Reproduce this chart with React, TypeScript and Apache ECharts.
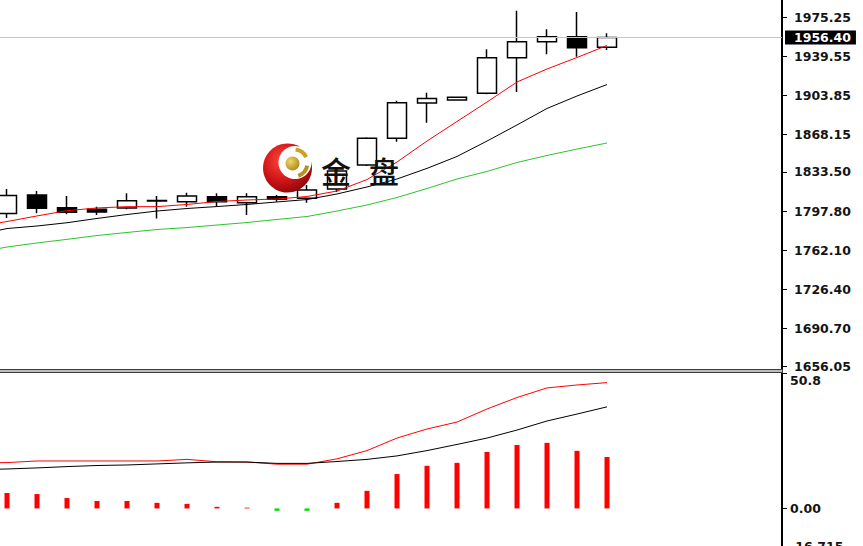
import React, { useEffect, useRef } from "react";
import * as echarts from "echarts";

// Daily bars, oldest first
const opens = [1795.5, 1812.4, 1800.8, 1799.4, 1800.6, 1807.0, 1806.3, 1810.9, 1805.4, 1810.9, 1809.4, 1817.9, 1839.9, 1864.3, 1896.6, 1899.3, 1905.5, 1938.0, 1952.7, 1957.2, 1947.5];
const closes = [1812.0, 1800.3, 1796.6, 1796.9, 1807.2, 1807.4, 1811.5, 1806.3, 1810.9, 1808.5, 1817.0, 1834.4, 1864.3, 1896.9, 1900.7, 1901.8, 1938.0, 1952.7, 1957.2, 1947.2, 1956.4];
const lows = [1791.4, 1795.7, 1794.8, 1794.2, 1799.4, 1791.0, 1801.75, 1801.75, 1794.2, 1806.3, 1805.4, 1815.2, 1839.0, 1861.2, 1878.6, 1898.9, 1904.6, 1906.7, 1941.1, 1938.9, 1945.1];
const highs = [1817.9, 1816.1, 1811.5, 1801.75, 1814.0, 1811.5, 1814.6, 1814.0, 1814.0, 1812.5, 1821.6, 1837.1, 1865.2, 1898.7, 1906.0, 1902.4, 1945.7, 1981.0, 1964.0, 1979.8, 1960.3];

// Moving averages (first value belongs to the bar before the first visible one)
const maFast = [1783.5, 1788.2, 1793.3, 1798.1, 1800.6, 1801.8, 1801.8, 1803.8, 1806.5, 1807.9, 1808.8, 1811.1, 1816.1, 1826.6, 1842.6, 1861.8, 1879.7, 1897.5, 1915.8, 1927.7, 1938.2, 1949.2];
const maMid = [1775.9, 1781.8, 1784.1, 1787.1, 1791.0, 1794.6, 1797.8, 1800.1, 1801.9, 1803.8, 1806.1, 1808.3, 1813.4, 1819.8, 1827.1, 1836.8, 1847.7, 1861.8, 1876.5, 1891.6, 1903.0, 1913.5];
const maSlow = [1759.8, 1764.9, 1768.6, 1771.9, 1775.4, 1778.2, 1780.9, 1782.7, 1785.0, 1787.3, 1790.1, 1792.8, 1797.8, 1803.3, 1810.2, 1818.4, 1827.1, 1834.0, 1842.2, 1848.6, 1854.5, 1860.0];

// MACD panel
const macdLine = [17.1, 17.2, 17.8, 17.8, 17.8, 17.8, 17.8, 18.4, 17.5, 17.4, 16.6, 16.6, 18.6, 21.7, 26.4, 29.8, 32.4, 37.3, 41.6, 45.2, 46.3, 47.2];
const signalLine = [14.5, 14.8, 15.2, 15.7, 16.1, 16.3, 16.7, 17.1, 17.4, 17.4, 16.9, 16.9, 17.6, 18.4, 19.7, 21.7, 24.0, 26.4, 29.4, 32.8, 35.4, 38.1];
const histogram = [5.8, 5.4, 3.9, 2.8, 2.8, 2.1, 1.7, 0.6, 0.3, -0.9, -0.9, 2.1, 6.6, 12.9, 16.0, 17.1, 21.2, 23.8, 24.6, 21.6, 19.3];

// Scales
const priceTicks = [1975.25, 1939.55, 1903.85, 1868.15, 1833.5, 1797.8, 1762.1, 1726.4, 1690.7, 1656.05];
const priceMin = 1652.41;
const priceMax = 1990.8;
const lastPrice = 1956.4;
const macdTicks = [50.8, 0, -16.715];
const macdTickText = ["50.8", "0.00", "-16.715"];

const barIdx = closes.map((_, i) => i);
const lineIdx = [-1, ...barIdx];

const FONT = "DejaVu Sans";
const LOGO_Z = 6;

export default function App() {
  const ref = useRef<HTMLDivElement>(null);

  useEffect(() => {
    if (!ref.current) return;
    const chart = echarts.init(ref.current, undefined, { renderer: "svg" });

    const candleData = barIdx.map((i) => [i, opens[i], closes[i], lows[i], highs[i]]);
    const pair = (arr: number[]) => arr.map((v, j) => [lineIdx[j], v]);

    const xMin = -7 / 30;
    const xMax = 775 / 30;

    const labelStyle = {
      fontFamily: FONT,
      fontSize: 12.5,
      fontWeight: "bold" as const,
      color: "#141414",
    };

    chart.setOption({
      animation: false,
      backgroundColor: "#ffffff",
      grid: [
        { left: 0, top: 0, width: 782, height: 370 },
        { left: 0, top: 373, width: 782, height: 180 },
      ],
      xAxis: [
        { type: "value", gridIndex: 0, min: xMin, max: xMax, show: false },
        { type: "value", gridIndex: 1, min: xMin, max: xMax, show: false },
      ],
      yAxis: [
        {
          type: "value",
          gridIndex: 0,
          position: "right",
          min: priceMin,
          max: priceMax,
          splitLine: { show: false },
          axisLine: { show: true, onZero: false, lineStyle: { color: "#000", width: 2 } },
          axisTick: { show: true, length: 5, customValues: priceTicks, lineStyle: { color: "#000", width: 1 } },
          axisLabel: {
            ...labelStyle,
            margin: 12,
            customValues: priceTicks,
            formatter: (v: number) => v.toFixed(2),
          },
        },
        {
          type: "value",
          gridIndex: 1,
          position: "right",
          min: macdTicks[2],
          max: macdTicks[0],
          splitLine: { show: false },
          axisLine: { show: true, onZero: false, lineStyle: { color: "#000", width: 2 } },
          axisTick: { show: true, length: 5, customValues: macdTicks, lineStyle: { color: "#000", width: 1 } },
          axisLabel: {
            ...labelStyle,
            margin: 8,
            customValues: macdTicks,
            formatter: (v: number) => {
              const i = macdTicks.findIndex((t) => Math.abs(t - v) < 1e-6);
              const txt = i >= 0 ? macdTickText[i] : String(v);
              if (i === 0) return `{hi|${txt}}`;
              if (i === 2) return `{lo|${txt}}`;
              return txt;
            },
            rich: {
              hi: { ...labelStyle, padding: [14, 0, 0, 0] },
              lo: { ...labelStyle, padding: [0, 0, 14, 0] },
            },
          },
        },
      ],
      graphic: [
        {
          type: "circle",
          z: LOGO_Z,
          silent: true,
          shape: { cx: 287.5, cy: 168, r: 24.5 },
          style: {
            fill: new echarts.graphic.RadialGradient(0.4, 0.35, 0.75, [
              { offset: 0, color: "#ff4a3c" },
              { offset: 0.55, color: "#d01418" },
              { offset: 1, color: "#7c0508" },
            ]),
          },
        },
        {
          type: "circle",
          z: LOGO_Z + 1,
          silent: true,
          shape: { cx: 295, cy: 162.5, r: 16.5 },
          style: { fill: "#ffffff" },
        },
        {
          type: "arc",
          z: LOGO_Z + 2,
          silent: true,
          shape: { cx: 294, cy: 163, r: 13.5, startAngle: -1.45, endAngle: -0.45 },
          style: { stroke: "#c9a227", lineWidth: 4, fill: "none" },
        },
        {
          type: "arc",
          z: LOGO_Z + 2,
          silent: true,
          shape: { cx: 294, cy: 163, r: 13.5, startAngle: 0.2, endAngle: 1.25 },
          style: { stroke: "#b8921c", lineWidth: 4, fill: "none" },
        },
        {
          type: "circle",
          z: LOGO_Z + 3,
          silent: true,
          shape: { cx: 292.5, cy: 163.5, r: 7 },
          style: {
            fill: new echarts.graphic.RadialGradient(0.35, 0.35, 0.8, [
              { offset: 0, color: "#f3d66a" },
              { offset: 1, color: "#a57f12" },
            ]),
          },
        },
        {
          type: "text",
          z: LOGO_Z,
          silent: true,
          x: 336,
          y: 170,
          style: {
            text: "金",
            font: '500 30px "Noto Sans CJK SC"',
            fill: "#111111",
            align: "center",
            verticalAlign: "middle",
          },
        },
        {
          type: "text",
          z: LOGO_Z,
          silent: true,
          x: 384,
          y: 170,
          style: {
            text: "盘",
            font: '500 30px "Noto Sans CJK SC"',
            fill: "#111111",
            align: "center",
            verticalAlign: "middle",
          },
        },
        {
          type: "rect",
          z: 10,
          shape: { x: -1, y: 369.5, width: 783.5, height: 3 },
          style: { fill: "#bdbdbd", stroke: "#3c3c3c", lineWidth: 1 },
        },
      ],
      series: [
        {
          type: "candlestick",
          xAxisIndex: 0,
          yAxisIndex: 0,
          data: candleData,
          encode: { x: 0, y: [1, 2, 3, 4] },
          barWidth: 19,
          itemStyle: {
            color: "#ffffff",
            color0: "#000000",
            borderColor: "#000000",
            borderColor0: "#000000",
            borderWidth: 1.5,
          },
          markLine: {
            silent: true,
            symbol: ["none", "none"],
            lineStyle: { color: "#c4c4c4", width: 1, type: "solid" },
            label: {
              show: true,
              position: "end",
              distance: 3,
              ...labelStyle,
              color: "#ffffff",
              backgroundColor: "#000000",
              padding: [1, 5, 0, 9],
              formatter: (p: any) => Number(p.value).toFixed(2),
            },
            data: [{ yAxis: lastPrice }],
          },
        },
        {
          type: "line",
          xAxisIndex: 0,
          yAxisIndex: 0,
          data: pair(maSlow),
          symbol: "none",
          lineStyle: { color: "#2ec42e", width: 1 },
        },
        {
          type: "line",
          xAxisIndex: 0,
          yAxisIndex: 0,
          data: pair(maMid),
          symbol: "none",
          lineStyle: { color: "#000000", width: 1 },
        },
        {
          type: "line",
          xAxisIndex: 0,
          yAxisIndex: 0,
          data: pair(maFast),
          symbol: "none",
          lineStyle: { color: "#ff0000", width: 1 },
        },
        {
          type: "bar",
          xAxisIndex: 1,
          yAxisIndex: 1,
          data: histogram.map((v, i) => [i, v]),
          barWidth: 5,
          itemStyle: {
            color: (p: any) => (p.value[1] >= 0 ? "#ff0000" : "#00dd00"),
          },
        },
        {
          type: "line",
          xAxisIndex: 1,
          yAxisIndex: 1,
          data: pair(macdLine),
          symbol: "none",
          lineStyle: { color: "#ff0000", width: 1 },
        },
        {
          type: "line",
          xAxisIndex: 1,
          yAxisIndex: 1,
          data: pair(signalLine),
          symbol: "none",
          lineStyle: { color: "#000000", width: 1 },
        },
      ],
    });

    return () => chart.dispose();
  }, []);

  return (
    <div
      style={{
        position: "absolute",
        left: 0,
        top: 0,
        width: 863,
        height: 546,
        overflow: "hidden",
        background: "#fff",
      }}
    >
      <div ref={ref} style={{ width: 863, height: 556 }} />
    </div>
  );
}
